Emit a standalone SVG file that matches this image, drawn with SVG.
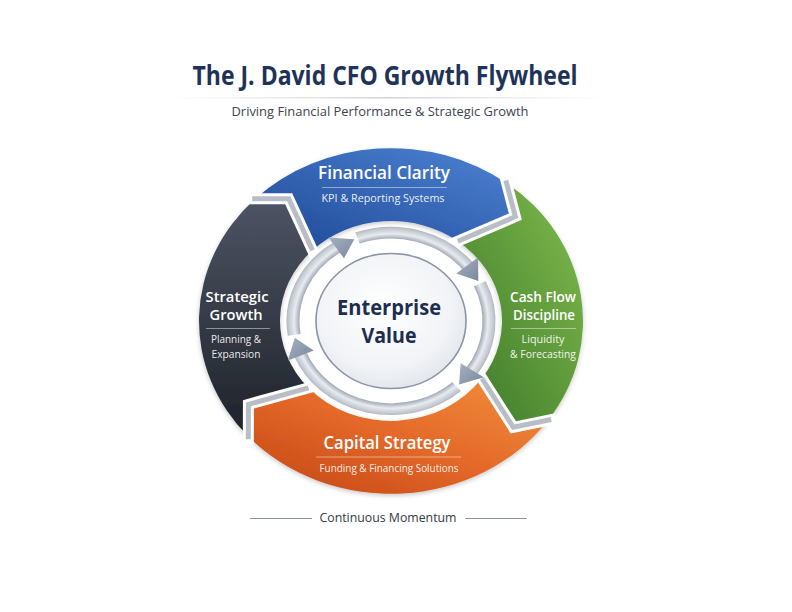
<svg xmlns="http://www.w3.org/2000/svg" width="792" height="612" viewBox="0 0 792 612">
<defs>
<style>
.t{font-family:"Open Sans","Noto Sans","DejaVu Sans",sans-serif;text-anchor:middle}
.h{font-weight:600;fill:#ffffff}
.s{font-weight:400;fill:#ffffff;fill-opacity:0.92}
.gapw{fill:none;stroke:#ffffff;stroke-width:11;stroke-linejoin:miter;vector-effect:non-scaling-stroke}
.gapg{fill:none;stroke:#b9bec6;stroke-width:5;stroke-linejoin:miter;vector-effect:non-scaling-stroke}
.ring{fill:none;stroke:url(#ringG);stroke-width:13}
.head{fill:url(#headG)}
.rule{stroke:#ffffff;stroke-opacity:0.45;stroke-width:1}
</style>
<linearGradient id="blueG" x1="1" y1="0" x2="0" y2="1">
<stop offset="0" stop-color="#4e83d4"/><stop offset="1" stop-color="#1d4895"/>
</linearGradient>
<linearGradient id="greenG" x1="1" y1="0" x2="0" y2="1">
<stop offset="0" stop-color="#82bc4e"/><stop offset="1" stop-color="#3a7628"/>
</linearGradient>
<linearGradient id="orangeG" x1="1" y1="0" x2="0" y2="1">
<stop offset="0" stop-color="#f2903a"/><stop offset="0.5" stop-color="#e4692a"/><stop offset="1" stop-color="#c24413"/>
</linearGradient>
<linearGradient id="darkG" x1="0" y1="0" x2="0" y2="1">
<stop offset="0" stop-color="#4d5464"/><stop offset="1" stop-color="#1e2229"/>
</linearGradient>
<radialGradient id="ringG" gradientUnits="userSpaceOnUse" cx="0" cy="0" r="110">
<stop offset="0.83" stop-color="#9ea7b3"/><stop offset="0.88" stop-color="#e8ebef"/><stop offset="0.93" stop-color="#c4cad2"/><stop offset="0.96" stop-color="#a6adb8"/>
</radialGradient>
<linearGradient id="headG" x1="0" y1="0" x2="1" y2="1">
<stop offset="0" stop-color="#a6b1c2"/><stop offset="1" stop-color="#7a879b"/>
</linearGradient>
<radialGradient id="coreG" cx="0.45" cy="0.4" r="0.65">
<stop offset="0" stop-color="#ffffff"/><stop offset="0.7" stop-color="#f1f3f6"/><stop offset="1" stop-color="#dfe3e9"/>
</radialGradient>
<linearGradient id="sepG" x1="0" y1="0" x2="1" y2="0">
<stop offset="0" stop-color="#d8dbe0" stop-opacity="0"/><stop offset="0.5" stop-color="#cfd3d9"/><stop offset="1" stop-color="#d8dbe0" stop-opacity="0"/>
</linearGradient>
<filter id="sh" x="-10%" y="-10%" width="120%" height="125%">
<feDropShadow dx="0" dy="2" stdDeviation="2.5" flood-color="#000000" flood-opacity="0.22"/>
</filter>
</defs>
<rect width="792" height="612" fill="#ffffff"/>

<g id="title">
<text class="t" x="385" y="85" font-size="26.5" font-weight="700" fill="#1f3358" textLength="385" lengthAdjust="spacingAndGlyphs">The J. David CFO Growth Flywheel</text>
<rect x="165" y="97" width="445" height="1.5" fill="url(#sepG)"/>
<text class="t" x="380" y="116" font-size="13" fill="#3d4450" textLength="297" lengthAdjust="spacingAndGlyphs">Driving Financial Performance &amp; Strategic Growth</text>
</g>

<g transform="translate(391,321) scale(1,0.9)">
<g filter="url(#sh)">
<path id="seg-blue" fill="url(#blueG)" d="M -135.77 -135.77 A 192 192 0 0 1 115.55 -153.34 L 124.33 -115.94 L 66.80 -88.65 A 111 111 0 0 0 -78.49 -78.49 L -102.31 -135.77 Z"/>
<path id="seg-green" fill="url(#greenG)" d="M 115.55 -153.34 A 192 192 0 0 1 157.28 110.13 L 122.29 118.09 L 90.93 63.67 A 111 111 0 0 0 66.80 -88.65 L 124.33 -115.94 Z"/>
<path id="seg-orange" fill="url(#orangeG)" d="M 157.28 110.13 A 192 192 0 0 1 -142.68 128.47 L -142.57 92.59 L -82.49 74.27 A 111 111 0 0 0 90.93 63.67 L 122.29 118.09 Z"/>
<path id="seg-dark" fill="url(#darkG)" d="M -142.68 128.47 A 192 192 0 0 1 -135.77 -135.77 L -102.31 -135.77 L -78.49 -78.49 A 111 111 0 0 0 -82.49 74.27 L -142.57 92.59 Z"/>
</g>
<g id="connectors">
<path class="gapw" d="M -143.77 -135.77 L -102.31 -135.77 L -75.42 -71.10"/>
<path class="gapw" d="M 113.72 -161.13 L 124.33 -115.94 L 59.57 -85.22"/>
<path class="gapw" d="M 165.08 108.36 L 122.29 118.09 L 86.94 56.74"/>
<path class="gapw" d="M -142.70 136.47 L -142.57 92.59 L -74.84 71.94"/>
<path class="gapg" d="M -138.77 -135.77 L -102.31 -135.77 L -78.49 -78.49"/>
<path class="gapg" d="M 114.86 -156.26 L 124.33 -115.94 L 66.80 -88.65"/>
<path class="gapg" d="M 160.21 109.46 L 122.29 118.09 L 90.93 63.67"/>
<path class="gapg" d="M -142.69 131.47 L -142.57 92.59 L -82.49 74.27"/>
<path class="ring" d="M -96.79 15.33 A 98 98 0 0 1 -53.37 -82.19"/>
<path class="ring" d="M -33.52 -92.09 A 98 98 0 0 1 77.23 -60.33"/>
<path class="ring" d="M 88.82 -41.42 A 98 98 0 0 1 80.28 56.21"/>
<path class="ring" d="M 65.57 72.83 A 98 98 0 0 1 -90.86 36.71"/>
<polygon class="head" points="-36.71,-90.86 -62.63,-92.85 -46.97,-69.64"/>
<polygon class="head" points="87.32,-44.49 87.04,-70.48 65.28,-52.86"/>
<polygon class="head" points="68.08,70.50 92.85,62.63 69.64,46.97"/>
<polygon class="head" points="-96.20,18.70 -103.10,43.76 -77.32,32.82"/>
</g>
<g id="core">
<circle r="80" fill="#ffffff"/>
<circle r="75" fill="url(#coreG)" stroke="#8a94a4" stroke-width="1.6" vector-effect="non-scaling-stroke"/>
</g>
</g>

<g id="node-center">
<text class="t" x="389" y="315" font-size="21" font-weight="700" fill="#1d2d4f" textLength="104" lengthAdjust="spacingAndGlyphs">Enterprise</text>
<text class="t" x="389" y="343" font-size="21" font-weight="700" fill="#1d2d4f" textLength="55" lengthAdjust="spacingAndGlyphs">Value</text>
</g>

<g id="node-financial-clarity">
<text class="t h" x="384" y="179" font-size="17.5" textLength="132" lengthAdjust="spacingAndGlyphs">Financial Clarity</text>
<line class="rule" x1="322" y1="187.5" x2="447" y2="187.5"/>
<text class="t s" x="383" y="202" font-size="11" textLength="123" lengthAdjust="spacingAndGlyphs">KPI &amp; Reporting Systems</text>
</g>

<g id="node-cash-flow">
<text class="t h" x="543" y="302" font-size="14.5" fill="#f5f9ee" textLength="66" lengthAdjust="spacingAndGlyphs">Cash Flow</text>
<text class="t h" x="544" y="320" font-size="14.5" fill="#f5f9ee" textLength="62" lengthAdjust="spacingAndGlyphs">Discipline</text>
<line class="rule" x1="511" y1="328.5" x2="576" y2="328.5"/>
<text class="t s" x="543" y="343" font-size="10.5" textLength="43" lengthAdjust="spacingAndGlyphs">Liquidity</text>
<text class="t s" x="543" y="357.5" font-size="10.5" textLength="66" lengthAdjust="spacingAndGlyphs">&amp; Forecasting</text>
</g>

<g id="node-capital-strategy">
<text class="t h" x="387" y="449" font-size="18" fill="#fdebd6" textLength="127" lengthAdjust="spacingAndGlyphs">Capital Strategy</text>
<line class="rule" x1="316" y1="457" x2="461" y2="457"/>
<text class="t s" x="389" y="471.5" font-size="11" fill="#fde6d0" textLength="139" lengthAdjust="spacingAndGlyphs">Funding &amp; Financing Solutions</text>
</g>

<g id="node-strategic-growth">
<text class="t h" x="237" y="302" font-size="14.5" textLength="63" lengthAdjust="spacingAndGlyphs">Strategic</text>
<text class="t h" x="236" y="320" font-size="14.5" textLength="53" lengthAdjust="spacingAndGlyphs">Growth</text>
<line class="rule" x1="206" y1="328.5" x2="270" y2="328.5"/>
<text class="t s" x="236" y="343" font-size="10.5" textLength="50" lengthAdjust="spacingAndGlyphs">Planning &amp;</text>
<text class="t s" x="236" y="357.5" font-size="10.5" textLength="49" lengthAdjust="spacingAndGlyphs">Expansion</text>
</g>

<g id="footer">
<line x1="250" y1="518.5" x2="312" y2="518.5" stroke="#8d939c" stroke-width="1"/>
<line x1="465" y1="518.5" x2="527" y2="518.5" stroke="#8d939c" stroke-width="1"/>
<text class="t" x="388" y="522" font-size="13" fill="#333a45" textLength="137" lengthAdjust="spacingAndGlyphs">Continuous Momentum</text>
</g>
</svg>
